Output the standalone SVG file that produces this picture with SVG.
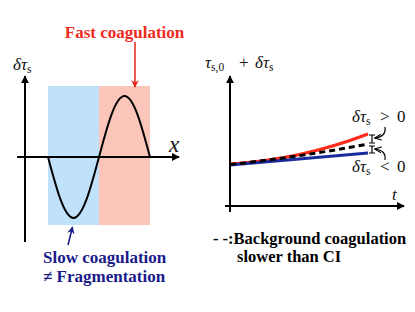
<svg xmlns="http://www.w3.org/2000/svg" width="415" height="312" viewBox="0 0 415 312">
<style>
.ax{stroke:#000;stroke-width:2;fill:none}
.m{font-family:'Liberation Serif','DejaVu Serif',serif;font-style:italic;font-size:17px;fill:#111}
.sub{font-style:normal;font-size:11.5px}
.up{font-style:normal}
.b{font-family:'Liberation Serif','DejaVu Serif',serif;font-weight:bold;font-size:17px}
.thin{stroke:#000;stroke-width:1.2;fill:none}
</style>
<defs>
<marker id="ah" viewBox="0 0 10 10" refX="9" refY="5" markerWidth="4" markerHeight="4" orient="auto"><path d="M0,0 L10,5 L0,10 z" fill="#000"/></marker>
<marker id="ahr" viewBox="0 0 10 10" refX="9" refY="5" markerWidth="5" markerHeight="5" orient="auto"><path d="M0,0 L10,5 L0,10 L3,5 z" fill="#e8221a"/></marker>
<marker id="ahb" viewBox="0 0 10 10" refX="9" refY="5" markerWidth="5" markerHeight="5" orient="auto"><path d="M0,0 L10,5 L0,10 L3,5 z" fill="#1a1a8c"/></marker>
<marker id="ahs" viewBox="0 0 10 10" refX="9" refY="5" markerWidth="6" markerHeight="6" orient="auto"><path d="M0,1 L10,5 L0,9" fill="none" stroke="#000" stroke-width="1.5"/></marker>
</defs>

<g id="left-plot">
<rect x="48" y="86" width="51" height="139" fill="#bfe1fa"/>
<rect x="99" y="86" width="51" height="139" fill="#fcc5b9"/>
<line class="ax" x1="25" y1="242" x2="25" y2="76" marker-end="url(#ah)"/>
<line class="ax" x1="17" y1="157" x2="179" y2="157" marker-end="url(#ah)"/>
<path class="ax" d="M48,157 C56.31,188.25 64.27,218 73.5,218 C82.73,218 90.69,188.25 99,157 C107.31,125.75 115.27,96 124.5,96 C133.73,96 141.69,125.75 150,157"/>
<text class="m" x="13" y="70">δτ<tspan class="sub" dy="3">s</tspan></text>
<text class="m" x="169" y="152" style="font-size:23px">x</text>
</g>

<g id="fast-label">
<text class="b" x="124.5" y="38" text-anchor="middle" fill="#f02a1c">Fast coagulation</text>
</g>

<g id="slow-label">
<text class="b" x="43" y="263" fill="#1a1a8c">Slow coagulation</text>
<text class="b" x="43" y="282" fill="#1a1a8c">≠ Fragmentation</text>
</g>

<g id="right-plot">
<line class="ax" x1="230" y1="212" x2="230" y2="76" marker-end="url(#ah)"/>
<line class="ax" x1="225" y1="206" x2="404" y2="206" marker-end="url(#ah)"/>
<text class="m" x="205" y="68">τ<tspan class="sub" dy="3">s,0</tspan><tspan class="up" x="239" dy="-3">+</tspan><tspan x="255">δτ</tspan><tspan class="sub" dy="3">s</tspan></text>
<text class="m" x="392" y="200">t</text>
<path d="M230,164 Q300,160 368,134" stroke="#ff2a1a" stroke-width="3" fill="none"/>
<path d="M230,165 L368,153" stroke="#1a2c9c" stroke-width="3" fill="none"/>
<path d="M230,164.5 Q300,157 368,144" stroke="#000" stroke-width="3" stroke-dasharray="6,4" fill="none"/>
<path class="thin" d="M372,135 V143 M369,135 H375 M369,143 H375 M372,146 V153 M369,146 H375 M369,153 H375"/>
<text class="m" x="352" y="122">δτ<tspan class="sub" dy="3">s</tspan><tspan class="up" x="380" dy="-3">&gt;</tspan><tspan class="up" x="397">0</tspan></text>
<text class="m" x="352" y="172">δτ<tspan class="sub" dy="3">s</tspan><tspan class="up" x="380" dy="-3">&lt;</tspan><tspan class="up" x="397">0</tspan></text>
</g>

<g id="legend">
<text class="b" x="213" y="244" style="font-size:16.5px" fill="#000">- -:Background coagulation</text>
<text class="b" x="237" y="262" style="font-size:16.5px" fill="#000">slower than CI</text>
</g>

<g id="connectors">
<line x1="135" y1="42" x2="135" y2="87" stroke="#e8221a" stroke-width="1.5" marker-end="url(#ahr)"/>
<line x1="68" y1="245" x2="72.5" y2="227" stroke="#1a1a8c" stroke-width="1.5" marker-end="url(#ahb)"/>
<path class="thin" d="M385,127 C386,134 382,137 375,138" marker-end="url(#ahs)"/>
<path class="thin" d="M385,160 C386,153 382,150 375,149" marker-end="url(#ahs)"/>
</g>
</svg>
